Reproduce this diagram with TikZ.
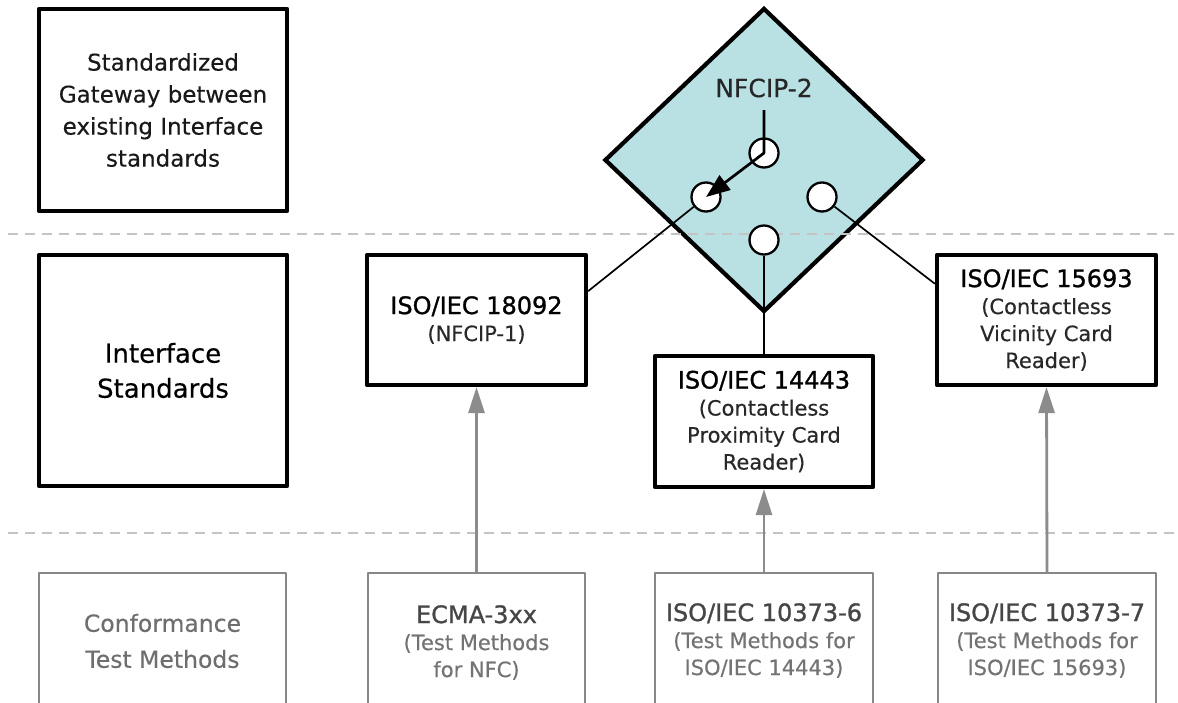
\documentclass[tikz,border=0pt]{standalone}
\usepackage{fontspec}
\setmainfont{DejaVu Sans}[FakeBold=0.3]
\newfontfamily\ttlfont{DejaVu Sans}[FakeBold=1.1]
\usetikzlibrary{shapes.geometric,arrows.meta,calc}
\definecolor{teal1}{RGB}{185,224,227}
\definecolor{dashgray}{RGB}{196,196,196}
\definecolor{boxgray}{RGB}{135,135,135}
\definecolor{arrgray}{RGB}{140,140,140}
\definecolor{txtgray}{RGB}{110,110,110}
\definecolor{ttlgray}{RGB}{70,70,70}
\definecolor{subgray}{RGB}{115,115,115}
\definecolor{subdark}{RGB}{40,40,40}
\newcommand\ttlblk[1]{{\ttlfont\fontsize{24}{27}\selectfont\color{black}#1}}
\newcommand\ttlgry[1]{{\ttlfont\fontsize{24}{27}\selectfont\color{ttlgray}#1}}
\begin{document}
\begin{tikzpicture}[x=1pt,y=-1pt,
  blackbox/.style={draw=black,line width=4.2pt,line join=round,fill=white,inner sep=0pt,align=center},
  stdbox/.style={blackbox,minimum width=219pt,minimum height=130pt,font=\fontsize{21}{27}\selectfont,text=subdark},
  graybox/.style={draw=boxgray,line width=2.5pt,line join=round,fill=white,inner sep=0pt,align=center},
  testbox/.style={graybox,minimum width=218pt,font=\fontsize{21}{27}\selectfont,text=subgray},
  hole/.style={circle,draw=black,line width=2.3pt,fill=white,minimum size=29pt,inner sep=0pt},
  sepline/.style={draw=dashgray,line width=2.5pt,dash pattern=on 10pt off 7pt},
  link/.style={draw=black,line width=1.7pt},
  grayarrow/.style={draw=arrgray,line width=2.8pt,-{Triangle[length=26pt,width=16pt]}},
  switcharrow/.style={draw=black,line width=2.7pt,line join=round,-{Triangle[length=24pt,width=18pt]}}
]
\useasboundingbox (0,0) rectangle (1178,702);
\clip (0,0) rectangle (1178,702);
\fill[white] (0,0) rectangle (1178,702);

% left column
\node[blackbox,minimum width=248pt,minimum height=202pt,font=\fontsize{23}{32}\selectfont,text=black!90] (gw) at (163,110)
  {Standardized\\Gateway between\\existing Interface\\standards};
\node[blackbox,minimum width=248pt,minimum height=231pt,font=\fontsize{26}{35}\selectfont] (is) at (163,370.5)
  {Interface\\Standards};
\node[graybox,minimum width=247pt,minimum height=136pt,font=\fontsize{23.5}{36}\selectfont,text=txtgray] (ct) at (162.5,641)
  {Conformance\\Test Methods};

% gateway diamond
\node[diamond,draw=black,fill=teal1,line width=4.2pt,line join=miter,minimum width=319pt,minimum height=304pt,inner sep=0pt] (dm) at (764,160) {};
\node[font=\fontsize{25}{27}\selectfont,text=black!85] (nf) at (764,88) {NFCIP-2};

% separators
\coordinate (d1a) at (8,234);
\coordinate (d1b) at (1178,234);
\coordinate (d2a) at (8,533);
\coordinate (d2b) at (1178,533);
\draw[sepline] (d1a) -- (d1b);
\draw[sepline] (d2a) -- (d2b);

% switch contacts
\node[hole] (cT) at (764,153) {};
\node[hole] (cL) at (706,197) {};
\node[hole] (cR) at (822,197) {};
\node[hole] (cB) at (764,240) {};

% interface standards
\node[stdbox] (b18092) at (476.5,320) {\ttlblk{ISO/IEC 18092}\\(NFCIP-1)};
\node[stdbox,minimum width=218pt,minimum height=131pt] (b14443) at (764,421.5)
  {\ttlblk{ISO/IEC 14443}\\(Contactless\\Proximity Card\\Reader)};
\node[stdbox] (b15693) at (1046.5,320)
  {\ttlblk{ISO/IEC 15693}\\(Contactless\\Vicinity Card\\Reader)};

% links from contacts to standards
\coordinate (pL) at ($(b18092.north east)!0.285!(b18092.south east)$);
\coordinate (pR) at ($(b15693.north west)!0.23!(b15693.south west)$);
\draw[link] (cL) -- (pL);
\draw[link] (cR) -- (pR);
\draw[link] (cB) -- (b14443.north);

% switch arrow
\coordinate (aS) at (764,110);
\draw[switcharrow] (aS) -- (cT.center) -- (cL.center);

% conformance test boxes
\node[testbox,minimum width=217pt,minimum height=139pt] (e1) at (476.5,642.5)
  {\ttlgry{ECMA-3xx}\\(Test Methods\\for NFC)};
\node[testbox,minimum height=135pt] (e2) at (764,640.5)
  {\ttlgry{ISO/IEC 10373-6}\\(Test Methods for\\ISO/IEC 14443)};
\node[testbox,minimum height=135pt] (e3) at (1047,640.5)
  {\ttlgry{ISO/IEC 10373-7}\\(Test Methods for\\ISO/IEC 15693)};

\draw[grayarrow] (e1.north) -- (b18092.south);
\draw[grayarrow] (e2.north) -- (b14443.south);
\draw[grayarrow] (e3.north) -- (b15693.south);
\end{tikzpicture}
\end{document}
